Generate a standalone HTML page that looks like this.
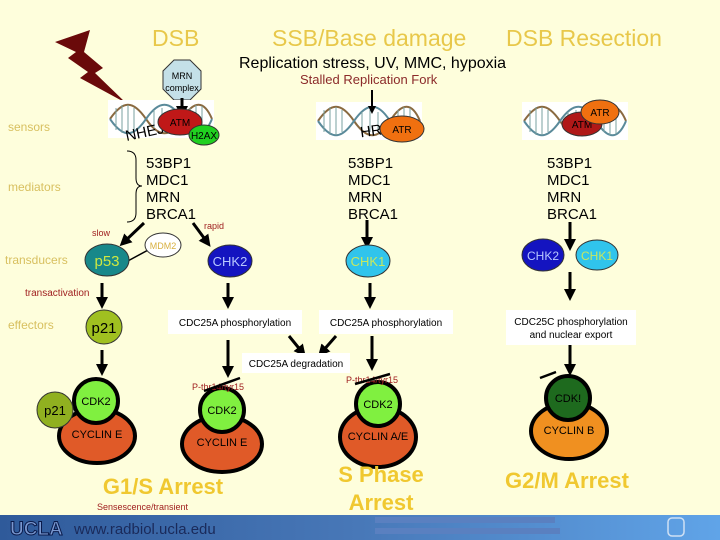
<!DOCTYPE html>
<html><head><style>
html,body{margin:0;padding:0;background:#fefedc;}
svg{display:block;font-family:"Liberation Sans",sans-serif;}
</style></head><body>
<svg width="720" height="540" viewBox="0 0 720 540" xmlns="http://www.w3.org/2000/svg">
<defs>
<marker id="ah" markerWidth="4" markerHeight="4" refX="2" refY="2" orient="auto" markerUnits="strokeWidth"><path d="M0,0 L4,2 L0,4z" fill="#000"/></marker>
<linearGradient id="ft" x1="0" x2="1"><stop offset="0" stop-color="#2f5a9a"/><stop offset="0.5" stop-color="#4878b8"/><stop offset="1" stop-color="#60a4e8"/></linearGradient>
<g id="dna">
<rect x="0" y="0" width="106" height="38" fill="#fff"/>
<path d="M2,19 C15,0 25,0 38,19 S62,38 74,19 S96,0 104,19" stroke="#8a6a40" stroke-width="2" fill="none"/>
<path d="M2,19 C15,38 25,38 38,19 S62,0 74,19 S96,38 104,19" stroke="#5a8a9a" stroke-width="2" fill="none"/>
<path d="M8,8 v22 M14,5 v28 M20,5 v28 M26,8 v22 M46,10 v18 M54,8 v22 M62,10 v18 M82,8 v22 M88,5 v28 M94,6 v26" stroke="#7aa0a0" stroke-width="1"/>
</g>
</defs>
<g fill="#e8c84a" font-size="23">
<text x="152" y="46">DSB</text>
<text x="272" y="46">SSB/Base damage</text>
<text x="506" y="46">DSB Resection</text>
</g>
<text x="239" y="68" font-size="16" fill="#000">Replication stress, UV, MMC, hypoxia</text>
<text x="300" y="84" font-size="13" fill="#8b2a2a">Stalled Replication Fork</text>
<path d="M55,42 L90,30 L84,52 L103,68 L95,73 L126,103 L80,78 L88,72 L68,58 L76,52z" fill="#6a0a0a"/>
<polygon points="174,60 190,60 201,71 201,89 190,100 174,100 163,89 163,71" fill="#c4e0e8" stroke="#333" stroke-width="1"/>
<text x="182" y="79" font-size="9" text-anchor="middle">MRN</text>
<text x="182" y="91" font-size="9" text-anchor="middle">complex</text>
<use href="#dna" x="108" y="100"/>
<use href="#dna" x="316" y="102"/>
<use href="#dna" x="522" y="102"/>
<text x="125" y="138" font-size="15" transform="rotate(-12 140 132)">NHEJ</text>
<line x1="182" y1="98" x2="182" y2="112" stroke="#000" stroke-width="3" marker-end="url(#ah)"/>
<ellipse cx="180" cy="122" rx="22" ry="13" fill="#c01818" stroke="#333"/>
<text x="180" y="126" font-size="10" text-anchor="middle">ATM</text>
<ellipse cx="204" cy="135" rx="15" ry="10" fill="#20d020" stroke="#333"/>
<text x="204" y="139" font-size="10" text-anchor="middle">H2AX</text>
<text x="360" y="136" font-size="15" transform="rotate(-8 370 130)">HR</text>
<ellipse cx="402" cy="129" rx="22" ry="13" fill="#f07010" stroke="#333"/>
<text x="402" y="133" font-size="10" text-anchor="middle">ATR</text>
<line x1="372" y1="90" x2="372" y2="110" stroke="#000" stroke-width="2" marker-end="url(#ah)"/>
<ellipse cx="582" cy="124" rx="20" ry="12" fill="#b01818" stroke="#333"/>
<text x="582" y="128" font-size="10" text-anchor="middle">ATM</text>
<ellipse cx="600" cy="112" rx="19" ry="12" fill="#f07010" stroke="#333"/>
<text x="600" y="116" font-size="10" text-anchor="middle">ATR</text>
<g fill="#d8c060" font-size="12">
<text x="8" y="131">sensors</text>
<text x="8" y="191">mediators</text>
<text x="5" y="264">transducers</text>
<text x="8" y="329">effectors</text>
</g>
<g font-size="15" fill="#000">
<text x="146" y="168">53BP1</text><text x="146" y="185">MDC1</text><text x="146" y="202">MRN</text><text x="146" y="219">BRCA1</text>
<text x="348" y="168">53BP1</text><text x="348" y="185">MDC1</text><text x="348" y="202">MRN</text><text x="348" y="219">BRCA1</text>
<text x="547" y="168">53BP1</text><text x="547" y="185">MDC1</text><text x="547" y="202">MRN</text><text x="547" y="219">BRCA1</text>
</g>
<path d="M127,151 Q136,151 136,160 L136,178 Q136,186 142,186 Q136,186 136,194 L136,213 Q136,222 127,222" stroke="#000" fill="none" stroke-width="1"/>
<text x="92" y="236" font-size="9" fill="#a02020">slow</text>
<text x="204" y="229" font-size="9" fill="#a02020">rapid</text>
<line x1="144" y1="223" x2="124" y2="242" stroke="#000" stroke-width="3" marker-end="url(#ah)"/>
<line x1="193" y1="223" x2="207" y2="242" stroke="#000" stroke-width="3" marker-end="url(#ah)"/>
<line x1="367" y1="220" x2="367" y2="243" stroke="#000" stroke-width="3" marker-end="url(#ah)"/>
<line x1="570" y1="222" x2="570" y2="245" stroke="#000" stroke-width="3" marker-end="url(#ah)"/>
<line x1="150" y1="249" x2="126" y2="262" stroke="#000" stroke-width="1.5"/>
<ellipse cx="107" cy="260" rx="22" ry="16" fill="#18888a" stroke="#333"/>
<text x="107" y="266" font-size="15" fill="#d0e840" text-anchor="middle">p53</text>
<ellipse cx="163" cy="245" rx="18" ry="12" fill="#fff" stroke="#333"/>
<text x="163" y="249" font-size="9" fill="#d8b040" text-anchor="middle">MDM2</text>
<ellipse cx="230" cy="261" rx="22" ry="16" fill="#1414c0" stroke="#333"/>
<text x="230" y="266" font-size="13" fill="#b8c8ff" text-anchor="middle">CHK2</text>
<ellipse cx="368" cy="261" rx="22" ry="16" fill="#30c4ec" stroke="#333"/>
<text x="368" y="266" font-size="13" fill="#c8e860" text-anchor="middle">CHK1</text>
<ellipse cx="543" cy="255" rx="21" ry="16" fill="#1414c0" stroke="#333"/>
<text x="543" y="260" font-size="12" fill="#b8c8ff" text-anchor="middle">CHK2</text>
<ellipse cx="597" cy="255" rx="21" ry="15" fill="#30c4ec" stroke="#333"/>
<text x="597" y="260" font-size="12" fill="#c8e860" text-anchor="middle">CHK1</text>
<g stroke="#000" stroke-width="3">
<line x1="102" y1="283" x2="102" y2="303" marker-end="url(#ah)"/>
<line x1="228" y1="283" x2="228" y2="303" marker-end="url(#ah)"/>
<line x1="370" y1="283" x2="370" y2="303" marker-end="url(#ah)"/>
<line x1="570" y1="272" x2="570" y2="295" marker-end="url(#ah)"/>
<line x1="102" y1="350" x2="102" y2="370" marker-end="url(#ah)"/>
<line x1="228" y1="340" x2="228" y2="372" marker-end="url(#ah)"/>
<line x1="372" y1="336" x2="372" y2="365" marker-end="url(#ah)"/>
<line x1="570" y1="344" x2="570" y2="370" marker-end="url(#ah)"/>
<line x1="289" y1="336" x2="302" y2="352" marker-end="url(#ah)"/>
<line x1="336" y1="336" x2="322" y2="352" marker-end="url(#ah)"/>
</g>
<text x="25" y="296" font-size="10" fill="#a02020">transactivation</text>
<ellipse cx="104" cy="327" rx="18" ry="17" fill="#a0c020" stroke="#333"/>
<text x="104" y="333" font-size="15" text-anchor="middle">p21</text>
<rect x="168" y="310" width="134" height="24" fill="#fff"/>
<text x="235" y="326" font-size="10" text-anchor="middle">CDC25A phosphorylation</text>
<rect x="319" y="310" width="134" height="24" fill="#fff"/>
<text x="386" y="326" font-size="10" text-anchor="middle">CDC25A phosphorylation</text>
<rect x="506" y="310" width="130" height="35" fill="#fff"/>
<text x="571" y="325" font-size="10" text-anchor="middle">CDC25C phosphorylation</text>
<text x="571" y="338" font-size="10" text-anchor="middle">and nuclear export</text>
<rect x="242" y="353" width="108" height="20" fill="#fff"/>
<text x="296" y="367" font-size="10" text-anchor="middle">CDC25A degradation</text>
<g stroke="#000" stroke-width="4">
<ellipse cx="97" cy="436" rx="38" ry="27" fill="#e05a28"/>
<circle cx="96" cy="401" r="22" fill="#80f040"/>
<ellipse cx="222" cy="444" rx="40" ry="28" fill="#e05a28"/>
<circle cx="222" cy="410" r="22" fill="#80f040"/>
<ellipse cx="378" cy="437" rx="38" ry="30" fill="#e05a28"/>
<circle cx="378" cy="404" r="22" fill="#80f040"/>
<ellipse cx="569" cy="431" rx="38" ry="28" fill="#f09020"/>
<circle cx="568" cy="398" r="22" fill="#1e6a1e"/>
</g>
<circle cx="55" cy="410" r="18" fill="#90b020" stroke="#333"/>
<text x="55" y="415" font-size="13" text-anchor="middle">p21</text>
<g font-size="11" text-anchor="middle">
<text x="96" y="405">CDK2</text><text x="97" y="438">CYCLIN E</text>
<text x="222" y="414">CDK2</text><text x="222" y="446">CYCLIN E</text>
<text x="378" y="408">CDK2</text><text x="378" y="440">CYCLIN A/E</text>
<text x="568" y="402">CDK!</text><text x="569" y="434">CYCLIN B</text>
</g>
<text x="192" y="390" font-size="9" fill="#a02020">P-thr14/tyr15</text>
<text x="346" y="383" font-size="9" fill="#a02020">P-thr14/tyr15</text>
<g stroke="#000" stroke-width="2.5">
<line x1="204" y1="391" x2="240" y2="378"/>
<line x1="355" y1="384" x2="390" y2="374"/>
<line x1="540" y1="378" x2="556" y2="372"/>
</g>
<g fill="#f0c830" font-size="22" font-weight="bold" text-anchor="middle">
<text x="163" y="494">G1/S Arrest</text>
<text x="381" y="482">S Phase</text>
<text x="381" y="510">Arrest</text>
<text x="567" y="488">G2/M Arrest</text>
</g>
<text x="97" y="510" font-size="9" fill="#a02020">Sensescence/transient</text>
<rect x="0" y="515" width="720" height="25" fill="url(#ft)"/>
<text x="10" y="535" font-size="19" font-weight="bold" fill="#7a98d0" stroke="#0a1a4a" stroke-width="1">UCLA</text>
<text x="74" y="534" font-size="15" fill="#1a2a5a">www.radbiol.ucla.edu</text>
<g fill="#5a80c0"><rect x="375" y="517" width="180" height="6"/><rect x="375" y="528" width="185" height="6"/></g>
<rect x="668" y="518" width="16" height="18" rx="4" fill="none" stroke="#cfe0f4" stroke-width="1.5"/>
</svg>
</body></html>
